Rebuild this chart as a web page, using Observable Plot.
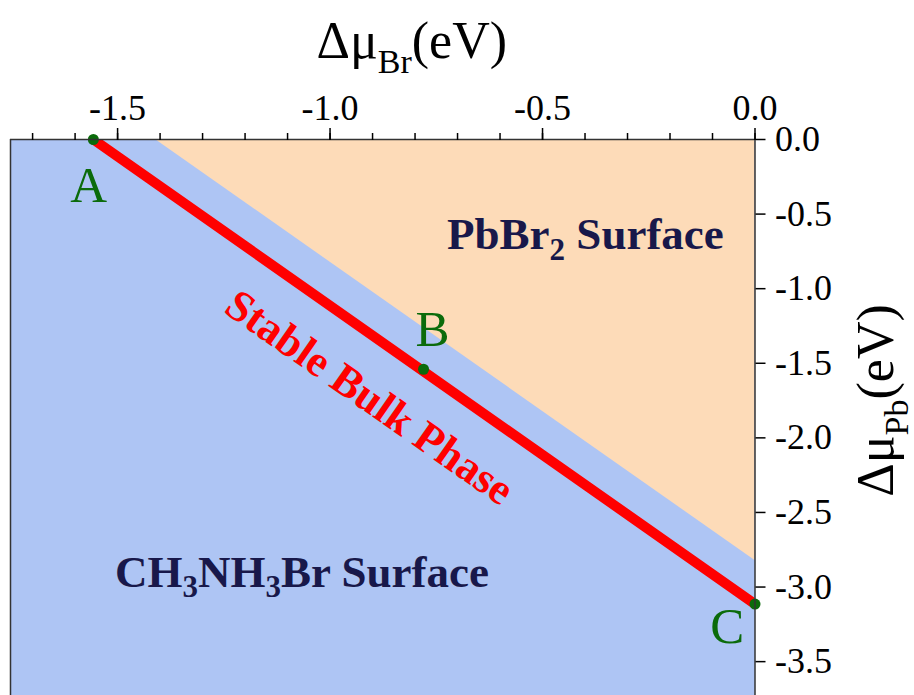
<!DOCTYPE html>
<html><head><meta charset="utf-8">
<script src="https://cdn.jsdelivr.net/npm/d3@7"></script>
<script src="https://cdn.jsdelivr.net/npm/@observablehq/plot@0.6"></script>
<style>body{margin:0;background:#fff}</style>
</head><body><div id="chart"></div>
<script>
// ---- data ----
const xDomain = [-1.752, 0];
const yDomain = [-3.727, 0];
const xMajorTicks = [-1.5, -1.0, -0.5, 0.0];
const xMinorTicks = [-1.7, -1.6, -1.5, -1.4, -1.3, -1.2, -1.1, -1.0, -0.9, -0.8, -0.7, -0.6, -0.5, -0.4, -0.3, -0.2, -0.1, 0.0];
const yTicks = [0.0, -0.5, -1.0, -1.5, -2.0, -2.5, -3.0, -3.5];
const boundaryX = [-1.411, 0];          // PbBr2 / CH3NH3Br surface boundary
const boundaryY = [0, -2.822];
const stableX = [-1.557, 0];            // stable bulk phase line
const stableY = [0, -3.114];
const pointNames = ["A", "B", "C"];
const pointX = [-1.557, -0.78, 0];
const pointY = [0, -1.54, -3.114];
const pointLabelX = [-1.568, -0.759, -0.065];
const pointLabelY = [-0.422, -1.385, -3.378];
const regionNames = ["PbBr2 Surface", "CH3NH3Br Surface"];
const regionX = [-0.399, -1.066];
const regionY = [-0.731, -3.003];
const phaseNames = ["Stable Bulk Phase"];
const phaseX = [-0.907];
const phaseY = [-1.729];
const xTitle = "Δμ_Br(eV)";
const yTitle = "Δμ_Pb(eV)";

// ---- tables built from the arrays ----
const boundary = boundaryX.map((x, i) => ({x, y: boundaryY[i], top: 0}));
const stable = stableX.map((x, i) => ({x, y: stableY[i]}));
const points = pointNames.map((n, i) => ({n, x: pointX[i], y: pointY[i], lx: pointLabelX[i], ly: pointLabelY[i]}));
const regions = regionNames.map((n, i) => ({n, x: regionX[i], y: regionY[i]}));
const phases = phaseNames.map((n, i) => ({n, x: phaseX[i], y: phaseY[i]}));

const BLUE = "#aec5f4", ORANGE = "#fddbb8", NAVY = "#18184a", GREEN = "#0b6b0b", RED = "#ff0000";
const fmt = d => d.toFixed(1);

const chart = Plot.plot({
  width: 914, height: 695,
  marginLeft: 10, marginRight: 159.5, marginTop: 139, marginBottom: 0,
  style: {fontFamily: "'Liberation Serif', 'Times New Roman', serif", fontSize: "36px", background: "white", color: "black"},
  x: {domain: xDomain, axis: null},
  y: {domain: yDomain, axis: null},
  marks: [
    Plot.frame({fill: BLUE, stroke: null}),
    Plot.areaY(boundary, {x: "x", y1: "y", y2: "top", fill: ORANGE}),
    Plot.line(stable, {x: "x", y: "y", stroke: RED, strokeWidth: 10, clip: true}),
    Plot.dot(points, {x: "x", y: "y", r: 5.5, fill: GREEN}),
    Plot.text(points, {x: "lx", y: "ly", text: "n", fill: GREEN, fontSize: 51, lineAnchor: "bottom", textAnchor: "middle"}),
    Plot.text(regions, {x: "x", y: "y", text: "n", fill: NAVY, fontSize: 45, fontWeight: "bold", lineAnchor: "bottom", textAnchor: "middle"}),
    Plot.text(phases, {x: "x", y: "y", text: "n", fill: RED, fontSize: 44, fontWeight: "bold", rotate: 35, textAnchor: "middle", lineAnchor: "middle"}),
    Plot.ruleY([yDomain[1]], {stroke: "#333", strokeWidth: 1.5}),
    Plot.ruleX([xDomain[0]], {stroke: "#333", strokeWidth: 1.5}),
    Plot.ruleX([xDomain[1]], {stroke: "#333", strokeWidth: 1.5}),
    Plot.axisX(xMinorTicks, {anchor: "top", tickSize: 7, text: null, label: null, strokeWidth: 1.5}),
    Plot.axisX(xMajorTicks, {anchor: "top", tickSize: 12, tickPadding: 8, tickFormat: fmt, label: null, strokeWidth: 1.5, fontSize: 36}),
    Plot.axisY(yTicks, {anchor: "right", tickSize: 10, tickPadding: 10, tickFormat: fmt, label: null, strokeWidth: 1.5, fontSize: 36}),
    Plot.text([xTitle], {text: d => d, frameAnchor: "top", dx: 29, dy: -82, lineAnchor: "bottom", textAnchor: "middle", fontSize: 52}),
    Plot.text([yTitle], {text: d => d, frameAnchor: "right", dx: 137.5, dy: -17, rotate: -90, lineAnchor: "bottom", textAnchor: "middle", fontSize: 52})
  ]
});

// ---- subscripts ----
const rich = {
  "PbBr2 Surface": {parts: [["PbBr"], ["2", 1], [" Surface"]], sub: 31, shift: 11},
  "CH3NH3Br Surface": {parts: [["CH"], ["3", 1], ["NH"], ["3", 1], ["Br Surface"]], sub: 31, shift: 10},
  "Δμ_Br(eV)": {parts: [["Δμ"], ["Br", 1], ["(eV)"]], sub: 34, shift: 15},
  "Δμ_Pb(eV)": {parts: [["Δμ"], ["Pb", 1], ["(eV)"]], sub: 34, shift: 15}
};
chart.querySelectorAll("text").forEach(t => {
  const r = rich[t.textContent];
  if (!r) return;
  t.textContent = "";
  let down = false;
  for (const [s, isSub] of r.parts) {
    const ts = document.createElementNS("http://www.w3.org/2000/svg", "tspan");
    ts.textContent = s;
    if (isSub) {
      ts.setAttribute("font-size", r.sub);
      if (!down) { ts.setAttribute("dy", r.shift); down = true; }
    } else if (down) {
      ts.setAttribute("dy", -r.shift); down = false;
    }
    t.appendChild(ts);
  }
});
document.getElementById("chart").appendChild(chart);
</script>
</body></html>
